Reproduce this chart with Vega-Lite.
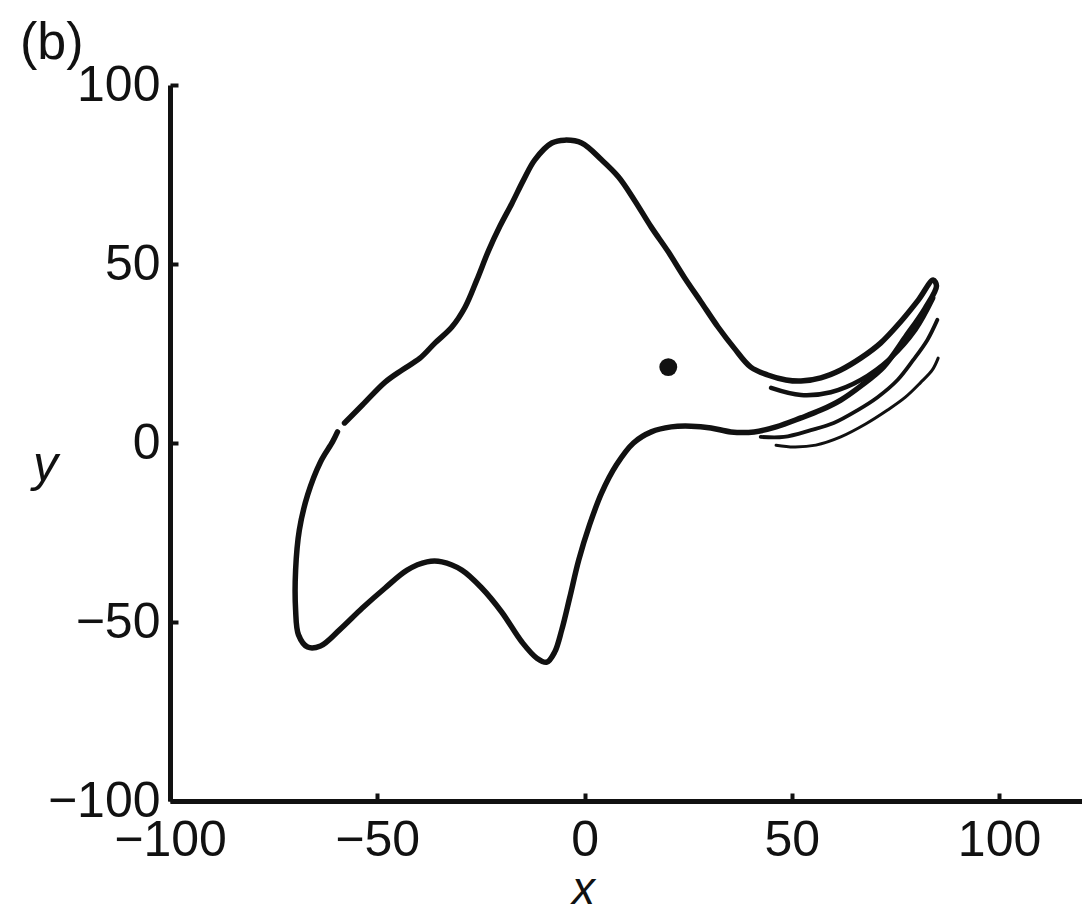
{
  "$schema": "https://vega.github.io/schema/vega-lite/v6.json",
  "width": 912,
  "height": 716,
  "autosize": {"type": "none"},
  "padding": {"left": 170, "top": 85, "right": 0, "bottom": 108},
  "background": "white",
  "config": {"view": {"stroke": null}, "font": "Liberation Sans"},
  "title": {"text": "(b)", "anchor": "start", "frame": "group", "dx": -150, "dy": 20, "offset": 10, "fontSize": 52, "fontWeight": "normal", "font": "Liberation Sans", "color": "#111"},
  "datasets": {
    "curve": [
      {"series": "main", "i": 0, "x": -57.9, "y": 5.6},
      {"series": "main", "i": 1, "x": -53.6, "y": 10.6},
      {"series": "main", "i": 2, "x": -48.1, "y": 17.0},
      {"series": "main", "i": 3, "x": -44.0, "y": 20.4},
      {"series": "main", "i": 4, "x": -39.7, "y": 23.7},
      {"series": "main", "i": 5, "x": -36.1, "y": 27.9},
      {"series": "main", "i": 6, "x": -32.0, "y": 32.4},
      {"series": "main", "i": 7, "x": -28.8, "y": 38.0},
      {"series": "main", "i": 8, "x": -26.0, "y": 45.5},
      {"series": "main", "i": 9, "x": -23.1, "y": 53.9},
      {"series": "main", "i": 10, "x": -20.4, "y": 60.6},
      {"series": "main", "i": 11, "x": -17.5, "y": 67.0},
      {"series": "main", "i": 12, "x": -14.7, "y": 73.5},
      {"series": "main", "i": 13, "x": -12.0, "y": 79.1},
      {"series": "main", "i": 14, "x": -7.9, "y": 83.8},
      {"series": "main", "i": 15, "x": -4.8, "y": 84.6},
      {"series": "main", "i": 16, "x": -0.7, "y": 83.8},
      {"series": "main", "i": 17, "x": 4.1, "y": 79.1},
      {"series": "main", "i": 18, "x": 8.2, "y": 74.3},
      {"series": "main", "i": 19, "x": 12.0, "y": 67.9},
      {"series": "main", "i": 20, "x": 16.1, "y": 60.3},
      {"series": "main", "i": 21, "x": 20.2, "y": 53.4},
      {"series": "main", "i": 22, "x": 24.0, "y": 46.4},
      {"series": "main", "i": 23, "x": 28.1, "y": 39.4},
      {"series": "main", "i": 24, "x": 32.2, "y": 32.4},
      {"series": "main", "i": 25, "x": 36.1, "y": 26.5},
      {"series": "main", "i": 26, "x": 40.1, "y": 21.2},
      {"series": "main", "i": 27, "x": 44.2, "y": 19.0},
      {"series": "main", "i": 28, "x": 48.6, "y": 17.6},
      {"series": "main", "i": 29, "x": 52.2, "y": 17.3},
      {"series": "main", "i": 30, "x": 57.0, "y": 18.2},
      {"series": "main", "i": 31, "x": 61.8, "y": 20.4},
      {"series": "main", "i": 32, "x": 66.6, "y": 23.7},
      {"series": "main", "i": 33, "x": 71.4, "y": 27.9},
      {"series": "main", "i": 34, "x": 76.2, "y": 33.8},
      {"series": "main", "i": 35, "x": 80.5, "y": 39.9},
      {"series": "main", "i": 36, "x": 84.1, "y": 45.5},
      {"series": "main", "i": 37, "x": 84.9, "y": 43.9},
      {"series": "main", "i": 38, "x": 82.2, "y": 37.7},
      {"series": "main", "i": 39, "x": 77.4, "y": 29.6},
      {"series": "main", "i": 40, "x": 72.1, "y": 21.2},
      {"series": "main", "i": 41, "x": 66.6, "y": 15.9},
      {"series": "main", "i": 42, "x": 61.8, "y": 12.0},
      {"series": "main", "i": 43, "x": 57.0, "y": 9.2},
      {"series": "main", "i": 44, "x": 52.2, "y": 7.0},
      {"series": "main", "i": 45, "x": 46.2, "y": 4.5},
      {"series": "main", "i": 46, "x": 40.9, "y": 3.1},
      {"series": "main", "i": 47, "x": 35.3, "y": 3.1},
      {"series": "main", "i": 48, "x": 30.5, "y": 4.2},
      {"series": "main", "i": 49, "x": 25.7, "y": 4.7},
      {"series": "main", "i": 50, "x": 20.9, "y": 4.5},
      {"series": "main", "i": 51, "x": 16.1, "y": 3.1},
      {"series": "main", "i": 52, "x": 11.8, "y": 0.0},
      {"series": "main", "i": 53, "x": 7.7, "y": -6.1},
      {"series": "main", "i": 54, "x": 4.1, "y": -14.0},
      {"series": "main", "i": 55, "x": 1.2, "y": -22.9},
      {"series": "main", "i": 56, "x": -1.4, "y": -32.7},
      {"series": "main", "i": 57, "x": -3.6, "y": -43.3},
      {"series": "main", "i": 58, "x": -5.5, "y": -52.2},
      {"series": "main", "i": 59, "x": -7.2, "y": -58.4},
      {"series": "main", "i": 60, "x": -9.1, "y": -61.2},
      {"series": "main", "i": 61, "x": -11.5, "y": -60.1},
      {"series": "main", "i": 62, "x": -15.1, "y": -55.6},
      {"series": "main", "i": 63, "x": -20.0, "y": -47.2},
      {"series": "main", "i": 64, "x": -24.8, "y": -40.5},
      {"series": "main", "i": 65, "x": -29.6, "y": -35.5},
      {"series": "main", "i": 66, "x": -34.4, "y": -33.2},
      {"series": "main", "i": 67, "x": -38.0, "y": -33.2},
      {"series": "main", "i": 68, "x": -42.8, "y": -35.5},
      {"series": "main", "i": 69, "x": -48.1, "y": -40.5},
      {"series": "main", "i": 70, "x": -53.6, "y": -46.1},
      {"series": "main", "i": 71, "x": -59.1, "y": -52.2},
      {"series": "main", "i": 72, "x": -63.7, "y": -56.7},
      {"series": "main", "i": 73, "x": -66.8, "y": -57.0},
      {"series": "main", "i": 74, "x": -69.0, "y": -53.6},
      {"series": "main", "i": 75, "x": -69.7, "y": -46.6},
      {"series": "main", "i": 76, "x": -69.7, "y": -35.5},
      {"series": "main", "i": 77, "x": -68.8, "y": -24.3},
      {"series": "main", "i": 78, "x": -66.8, "y": -14.5},
      {"series": "main", "i": 79, "x": -63.7, "y": -5.3},
      {"series": "main", "i": 80, "x": -60.8, "y": 0.3},
      {"series": "main", "i": 81, "x": -59.6, "y": 3.1},
      {"series": "s2", "i": 0, "x": 45.0, "y": 15.4},
      {"series": "s2", "i": 1, "x": 52.2, "y": 13.4},
      {"series": "s2", "i": 2, "x": 59.4, "y": 14.2},
      {"series": "s2", "i": 3, "x": 66.6, "y": 17.6},
      {"series": "s2", "i": 4, "x": 73.8, "y": 23.7},
      {"series": "s2", "i": 5, "x": 79.8, "y": 31.6},
      {"series": "s2", "i": 6, "x": 84.1, "y": 40.5},
      {"series": "s3", "i": 0, "x": 42.5, "y": 1.7},
      {"series": "s3", "i": 1, "x": 48.1, "y": 1.7},
      {"series": "s3", "i": 2, "x": 54.6, "y": 3.6},
      {"series": "s3", "i": 3, "x": 60.1, "y": 5.6},
      {"series": "s3", "i": 4, "x": 65.9, "y": 9.2},
      {"series": "s3", "i": 5, "x": 70.7, "y": 12.8},
      {"series": "s3", "i": 6, "x": 75.5, "y": 17.6},
      {"series": "s3", "i": 7, "x": 79.3, "y": 23.2},
      {"series": "s3", "i": 8, "x": 82.7, "y": 28.8},
      {"series": "s3", "i": 9, "x": 85.1, "y": 34.4},
      {"series": "s4", "i": 0, "x": 46.2, "y": -0.6},
      {"series": "s4", "i": 1, "x": 50.5, "y": -1.1},
      {"series": "s4", "i": 2, "x": 55.8, "y": -0.6},
      {"series": "s4", "i": 3, "x": 61.8, "y": 1.7},
      {"series": "s4", "i": 4, "x": 67.8, "y": 5.3},
      {"series": "s4", "i": 5, "x": 73.1, "y": 9.2},
      {"series": "s4", "i": 6, "x": 77.4, "y": 12.8},
      {"series": "s4", "i": 7, "x": 81.0, "y": 16.8},
      {"series": "s4", "i": 8, "x": 83.9, "y": 20.4},
      {"series": "s4", "i": 9, "x": 85.3, "y": 23.7}
    ],
    "dot": [{"x": 20.2, "y": 21.2}]
  },
  "layer": [
    {
      "data": {"name": "curve"},
      "mark": {"type": "line", "interpolate": "catmull-rom", "strokeCap": "round", "strokeJoin": "round", "color": "#111"},
      "encoding": {
        "x": {
          "field": "x", "type": "quantitative",
          "scale": {"domain": [-100, 120], "nice": false, "zero": false},
          "axis": {
            "values": [-100, -50, 0, 50, 100], "grid": false,
            "title": "x", "titleFont": "Liberation Sans", "titleFontStyle": "italic", "titleFontWeight": "normal", "titleFontSize": 46, "titleColor": "#111",
            "titleX": 413, "titleY": 88, "titleAlign": "center", "titleBaseline": "middle",
            "labelFont": "Liberation Sans", "labelFontSize": 50, "labelColor": "#111",
            "labelFlush": false, "labelOverlap": false, "labelBound": false,
            "domainColor": "#111", "domainWidth": 5,
            "tickColor": "#111", "tickWidth": 4, "tickSize": -8, "labelPadding": 22
          }
        },
        "y": {
          "field": "y", "type": "quantitative",
          "scale": {"domain": [-100, 100], "nice": false, "zero": false},
          "axis": {
            "values": [-100, -50, 0, 50, 100], "grid": false,
            "title": "y", "titleFont": "Liberation Sans", "titleFontStyle": "italic", "titleFontWeight": "normal", "titleFontSize": 50, "titleColor": "#111",
            "titleAngle": 0, "titleX": -125, "titleY": 380, "titleAlign": "center", "titleBaseline": "middle",
            "labelFont": "Liberation Sans", "labelFontSize": 50, "labelColor": "#111",
            "labelFlush": false, "labelOverlap": false, "labelBound": false,
            "domainColor": "#111", "domainWidth": 5,
            "tickColor": "#111", "tickWidth": 4, "tickSize": -8, "labelPadding": 18
          }
        },
        "order": {"field": "i", "type": "quantitative"},
        "detail": {"field": "series", "type": "nominal"},
        "strokeWidth": {"field": "series", "type": "nominal", "scale": {"domain": ["main", "s2", "s3", "s4"], "range": [5.5, 3, 3.5, 3.5]}, "legend": null}
      }
    },
    {
      "data": {"name": "dot"},
      "mark": {"type": "circle", "size": 320, "opacity": 1, "color": "#111"},
      "encoding": {
        "x": {"field": "x", "type": "quantitative"},
        "y": {"field": "y", "type": "quantitative"}
      }
    }
  ]
}
